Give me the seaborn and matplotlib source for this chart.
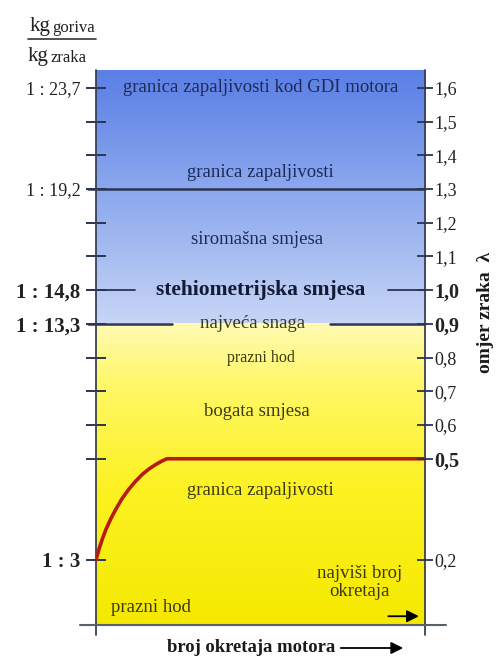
import numpy as np
import matplotlib
matplotlib.use("Agg")
import matplotlib.pyplot as plt
import seaborn as sns
from matplotlib.colors import LinearSegmentedColormap
from matplotlib.lines import Line2D

# ---------------- data ----------------
curve_rpm = [0.0, 0.010, 0.020, 0.030, 0.045, 0.060, 0.080, 0.100, 0.120, 0.140, 0.160, 0.180, 0.200, 0.215, 1.0]
curve_lambda = [0.200, 0.235, 0.264, 0.290, 0.322, 0.350, 0.383, 0.410, 0.433, 0.453, 0.469, 0.482, 0.493, 0.500, 0.500]

right_ticks = [1.6, 1.5, 1.4, 1.3, 1.2, 1.1, 1.0, 0.9, 0.8, 0.7, 0.6, 0.5, 0.2]
right_labels = ["1,6", "1,5", "1,4", "1,3", "1,2", "1,1", "1,0", "0,9", "0,8", "0,7", "0,6", "0,5", "0,2"]
right_bold = ["1,0", "0,9", "0,5"]

left_ticks = [1.6, 1.3, 1.0, 0.9, 0.2]
left_labels = ["1 : 23,7", "1 : 19,2", "1 : 14,8", "1 : 13,3", "1 : 3"]
left_bold = ["1 : 14,8", "1 : 13,3", "1 : 3"]
left_minor = [1.5, 1.4, 1.2, 1.1, 0.8, 0.7, 0.6, 0.5]

lean_texts = ["granica zapaljivosti kod GDI motora", "granica zapaljivosti", "siromašna smjesa"]
lean_x = [0.50, 0.50, 0.49]
lean_y = [1.60, 1.35, 1.15]

rich_texts = ["najveća snaga", "prazni hod", "bogata smjesa", "granica zapaljivosti", "prazni hod", "najviši broj\nokretaja"]
rich_x = [0.475, 0.50, 0.49, 0.50, 0.168, 0.80]
rich_y = [0.90, 0.80, 0.64, 0.407, 0.06, 0.134]
rich_size = [13.5, 11.5, 13.5, 13.5, 13.5, 13.5]

# ---------------- style ----------------
sns.set_theme(style="white")
plt.rcParams["font.family"] = ["Liberation Serif", "DejaVu Serif"]

W, H = 500, 656
fig = plt.figure(figsize=(W / 100, H / 100), dpi=100)
ax = fig.add_axes([96 / W, 1 - 625 / H, 329 / W, 555 / H])
y0, y1 = 0.007, 1.653

blue = LinearSegmentedColormap.from_list("b", ["#c8d5f6", "#a0b8f0", "#7d9cec", "#5a7fe5"])
yellow = LinearSegmentedColormap.from_list(
    "y", [(0.0, "#f5e900"), (0.45, "#fcf222"), (0.8, "#fff768"), (1.0, "#fffab4")])
grad = np.linspace(0, 1, 256).reshape(-1, 1)
ax.imshow(grad, extent=[0, 1, 0.9, y1], origin="lower", aspect="auto", cmap=blue, zorder=0)
ax.imshow(grad, extent=[0, 1, y0, 0.9], origin="lower", aspect="auto", cmap=yellow, zorder=0)
ax.set_xlim(0, 1)
ax.set_ylim(y0, y1)

for s in ax.spines.values():
    s.set_visible(False)

dark = "#2b3450"
# frame lines
ax.plot([0, 0], [-0.024, y1], color="#3a4152", lw=1.3, clip_on=False, zorder=3)
ax.plot([1, 1], [-0.024, y1], color="#3a4152", lw=1.3, clip_on=False, zorder=3)
ax.plot([-0.049, 1.064], [y0, y0], color="#5a616b", lw=1.5, clip_on=False, zorder=3)

# horizontal reference lines
ax.plot([-0.024, 1.0], [1.3, 1.3], color=dark, lw=1.8, clip_on=False, zorder=2)
ax.plot([-0.024, 0.119], [1.0, 1.0], color=dark, lw=1.3, clip_on=False, zorder=2)
ax.plot([0.888, 1.0], [1.0, 1.0], color=dark, lw=1.3, clip_on=False, zorder=2)
ax.plot([-0.024, 0.231], [0.9, 0.9], color=dark, lw=1.8, clip_on=False, zorder=2)
ax.plot([0.711, 1.0], [0.9, 0.9], color=dark, lw=1.8, clip_on=False, zorder=2)

# red curve
sns.lineplot(x=curve_rpm, y=curve_lambda, ax=ax, color="#b51c12", lw=2.6, zorder=4,
             solid_joinstyle="round", solid_capstyle="round")

# left ticks
ax.set_xticks([])
ax.set_yticks(left_ticks)
ax.set_yticklabels(left_labels)
ax.set_yticks(left_minor, minor=True)
ax.tick_params(axis="y", which="both", direction="inout", length=14, width=1.4,
               color=dark, pad=4, left=True, right=False, labelsize=13, labelcolor="#222222")
for lab in ax.get_yticklabels():
    if lab.get_text() in left_bold:
        lab.set_fontweight("bold")
        lab.set_fontsize(15)

# right ticks
ax2 = ax.twinx()
ax2.set_ylim(y0, y1)
for s in ax2.spines.values():
    s.set_visible(False)
ax2.set_yticks(right_ticks)
ax2.set_yticklabels(right_labels)
ax2.tick_params(axis="y", which="both", direction="inout", length=11.5, width=1.3,
                color=dark, pad=1, right=True, left=False, labelsize=13, labelcolor="#222222")
for lab in ax2.get_yticklabels():
    if lab.get_text() in right_bold:
        lab.set_fontweight("bold")
        lab.set_fontsize(14.5)

# region texts
for t, x, y in zip(lean_texts, lean_x, lean_y):
    ax.text(x, y, t, ha="center", va="center", fontsize=13.5, color="#1d2a58", zorder=5)
ax.text(0.50, 1.0, "stehiometrijska smjesa", ha="center", va="center", fontsize=15.5,
        fontweight="bold", color="#121a36", zorder=5)
for t, x, y, s in zip(rich_texts, rich_x, rich_y, rich_size):
    ax.text(x, y, t, ha="center", va="center", fontsize=s, color="#3b3a14",
            linespacing=1.05, zorder=5)

# arrow inside plot
ax.annotate("", xy=(0.99, 0.033), xytext=(0.88, 0.033),
            arrowprops=dict(arrowstyle="-|>", color="black", lw=1.3, mutation_scale=18))

# x label with arrow
fig.text(167 / W, 1 - 648 / H, "broj okretaja motora", fontsize=13.4, fontweight="bold",
         ha="left", va="center", color="#1a1a1a")
ax.annotate("", xy=(406 / W, 1 - 648 / H), xytext=(338 / W, 1 - 648 / H),
            xycoords="figure fraction", textcoords="figure fraction",
            arrowprops=dict(arrowstyle="-|>", color="black", lw=1.3, mutation_scale=18))

# right y label
fig.text(486 / W, 1 - 312 / H, "omjer zraka  λ", rotation=90, fontsize=14,
         fontweight="bold", ha="center", va="center", color="#1a1a1a")

# top-left unit label
fig.text(30 / W, 1 - 31 / H, "kg", fontsize=15, ha="left", va="baseline", color="#222222")
fig.text(52 / W, 1 - 32 / H, "goriva", fontsize=12, ha="left", va="baseline", color="#222222")
fig.add_artist(Line2D([28 / W, 96 / W], [1 - 39 / H, 1 - 39 / H], color="#333333", lw=1.2))
fig.text(28 / W, 1 - 61 / H, "kg", fontsize=15, ha="left", va="baseline", color="#222222")
fig.text(51 / W, 1 - 62 / H, "zraka", fontsize=12, ha="left", va="baseline", color="#222222")

fig.savefig("out.png", dpi=100)
